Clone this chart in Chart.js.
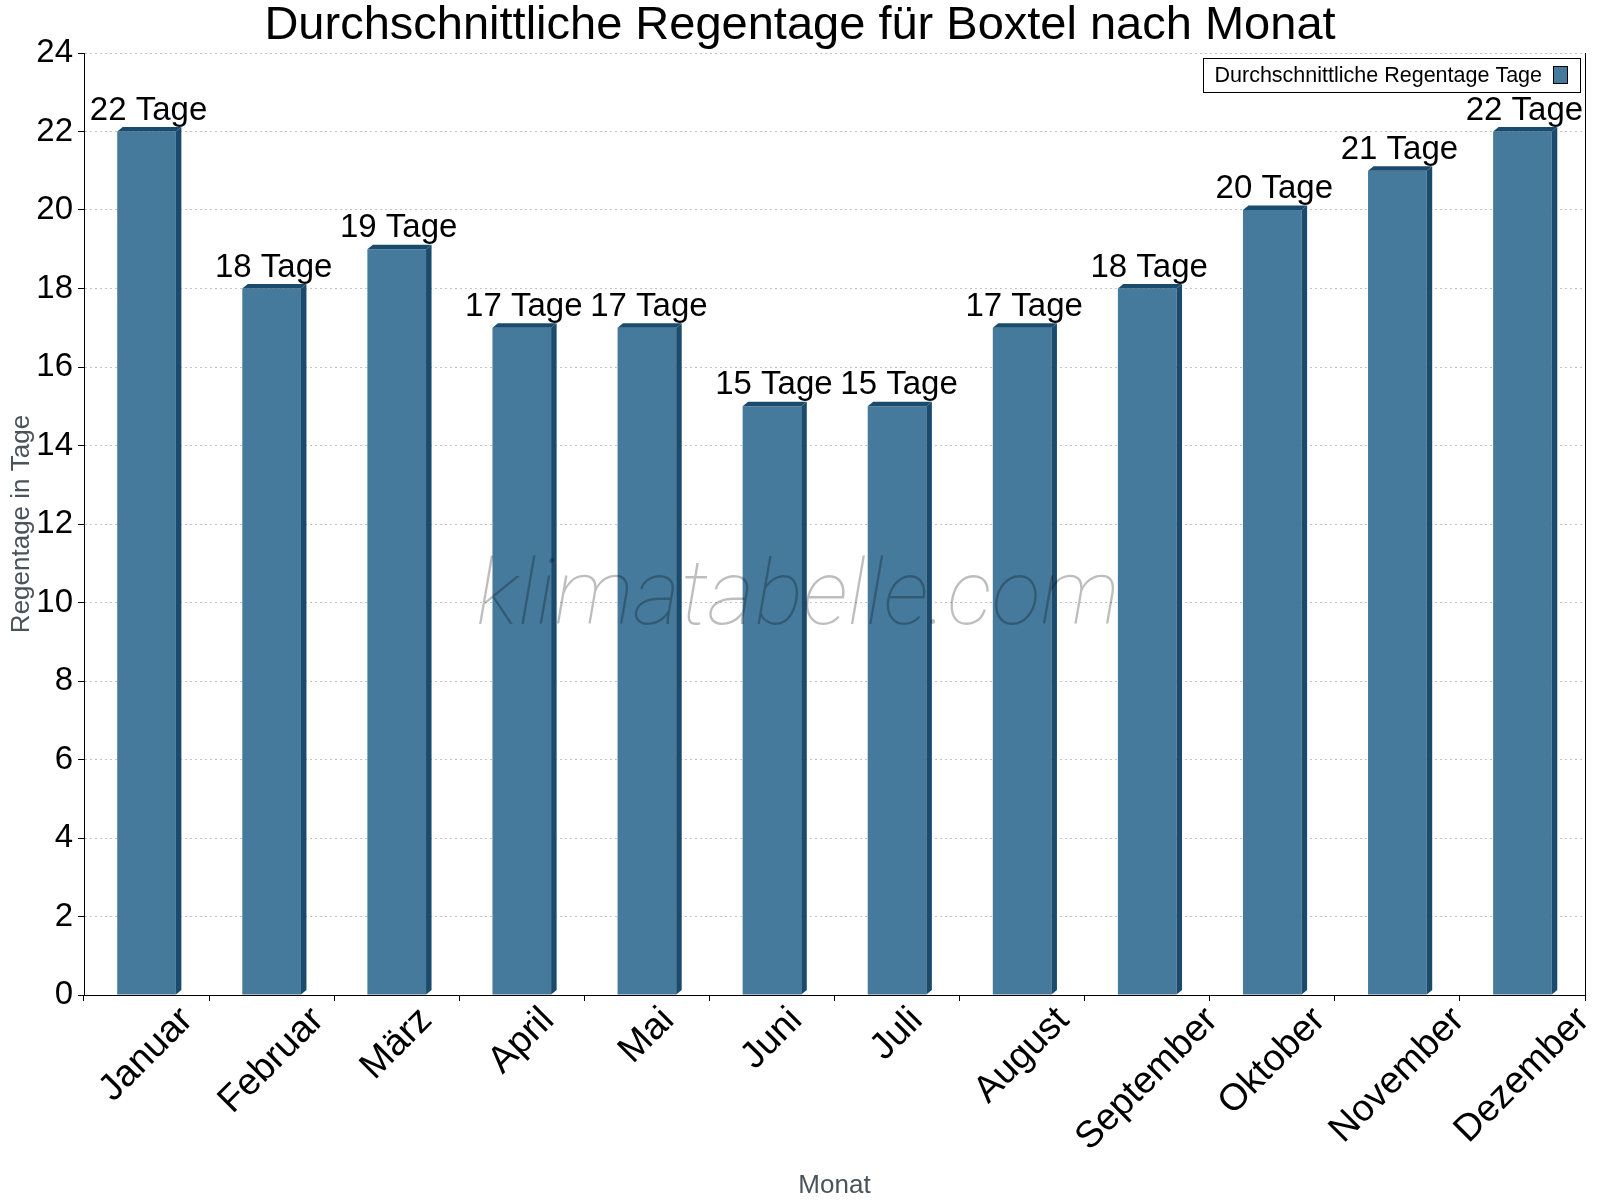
<!DOCTYPE html>
<html>
<head>
<meta charset="utf-8">
<script src="https://cdn.jsdelivr.net/npm/chart.js@4.4.0/dist/chart.umd.min.js"></script>
<style>
  html, body { margin: 0; padding: 0; background: #fff; }
  #wrap { width: 1600px; height: 1200px; }
</style>
</head>
<body>
<div id="wrap"><canvas id="rainChart" width="1600" height="1200"></canvas></div>
<script>
// data
const months = ['Januar', 'Februar', 'März', 'April', 'Mai', 'Juni', 'Juli', 'August', 'September', 'Oktober', 'November', 'Dezember'];
const rainDays = [22, 18, 19, 17, 17, 15, 15, 17, 18, 20, 21, 22];
const yTicks = [0, 2, 4, 6, 8, 10, 12, 14, 16, 18, 20, 22, 24];
const seriesLabel = 'Durchschnittliche Regentage Tage';
const titleText = 'Durchschnittliche Regentage für Boxtel nach Monat';
const unit = 'Tage';

const FONT = '"Liberation Sans", Arial, sans-serif';
const frontColor = '#467a9c';
const darkColor = '#1a4b6d';
const axisGray = '#4a525a';

// 3d look, labels, titles, legend, watermark
const decorPlugin = {
  id: 'decor',
  afterDatasetsDraw(chart) {
    const ctx = chart.ctx;
    const meta = chart.getDatasetMeta(0);
    const dx = 5.5, dy = 4.5;
    ctx.save();
    ctx.fillStyle = darkColor;
    meta.data.forEach((bar) => {
      const l = bar.x - bar.width / 2;
      const r = bar.x + bar.width / 2;
      const t = bar.y;
      const b = bar.base;
      // top face
      ctx.beginPath();
      ctx.moveTo(l, t);
      ctx.lineTo(l + dx, t - dy);
      ctx.lineTo(r + dx, t - dy);
      ctx.lineTo(r, t);
      ctx.closePath();
      ctx.fill();
      // side face
      ctx.beginPath();
      ctx.moveTo(r, t);
      ctx.lineTo(r + dx, t - dy);
      ctx.lineTo(r + dx, b - dy);
      ctx.lineTo(r, b);
      ctx.closePath();
      ctx.fill();
    });
    ctx.restore();
  },
  afterDraw(chart) {
    const ctx = chart.ctx;
    const area = chart.chartArea;
    const xs = chart.scales.x;
    const meta = chart.getDatasetMeta(0);
    ctx.save();

    // right spine
    ctx.strokeStyle = '#000';
    ctx.lineWidth = 1;
    ctx.beginPath();
    ctx.moveTo(area.right + 0.5, area.top);
    ctx.lineTo(area.right + 0.5, area.bottom);
    ctx.stroke();

    // watermark
    ctx.font = 'italic 100 91px Roboto, sans-serif';
    ctx.fillStyle = 'rgba(0,0,0,0.26)';
    ctx.textAlign = 'center';
    ctx.textBaseline = 'alphabetic';
    ctx.fillText('klimatabelle.com', 798, 624);

    // value labels
    ctx.fillStyle = '#000';
    ctx.font = '33px ' + FONT;
    ctx.textAlign = 'center';
    meta.data.forEach((bar, i) => {
      ctx.fillText(rainDays[i] + ' ' + unit, bar.x + 2, bar.y - 12);
    });

    // rotated x labels, bbox centred on tick
    ctx.font = '37.5px ' + FONT;
    ctx.textBaseline = 'middle';
    const s = Math.SQRT1_2;
    months.forEach((m, i) => {
      const x = xs.getPixelForValue(i);
      const w = ctx.measureText(m).width;
      const h = 38;
      const cy = area.bottom + 6 + (w + h) * s / 2;
      ctx.save();
      ctx.translate(x, cy);
      ctx.rotate(-Math.PI / 4);
      ctx.fillText(m, 0, 0);
      ctx.restore();
    });

    // title
    ctx.textBaseline = 'alphabetic';
    ctx.font = '47px ' + FONT;
    ctx.fillText(titleText, 800, 39);

    // axis titles
    ctx.fillStyle = axisGray;
    ctx.font = '26px ' + FONT;
    ctx.fillText('Monat', (area.left + area.right) / 2, 1193);
    ctx.save();
    ctx.translate(29, (area.top + area.bottom) / 2);
    ctx.rotate(-Math.PI / 2);
    ctx.fillText('Regentage in Tage', 0, 0);
    ctx.restore();

    // legend (box on the right of the text)
    ctx.fillStyle = '#fff';
    ctx.fillRect(1203, 58, 377, 34);
    ctx.strokeStyle = '#000';
    ctx.lineWidth = 1;
    ctx.strokeRect(1203.5, 58.5, 377, 34);
    ctx.fillStyle = '#000';
    ctx.font = '21.5px ' + FONT;
    ctx.textAlign = 'right';
    ctx.fillText(chart.data.datasets[0].label, 1542, 82);
    ctx.fillStyle = frontColor;
    ctx.fillRect(1553, 66.5, 14, 17);
    ctx.strokeStyle = '#000';
    ctx.strokeRect(1553.5, 66.5, 14, 17);

    ctx.restore();
  }
};

const chart = new Chart(document.getElementById('rainChart').getContext('2d'), {
  type: 'bar',
  data: {
    labels: months,
    datasets: [
      {
        label: seriesLabel,
        data: rainDays,
        backgroundColor: frontColor,
        borderWidth: 0,
        barPercentage: 0.469,
        categoryPercentage: 1
      }
    ]
  },
  plugins: [decorPlugin],
  options: {
    responsive: false,
    animation: false,
    layout: { padding: { top: 53, right: 15, left: 0, bottom: 0 } },
    plugins: {
      legend: { display: false },
      title: { display: false },
      tooltip: { enabled: false }
    },
    scales: {
      x: {
        grid: {
          offset: true,
          drawOnChartArea: false,
          tickLength: 6,
          tickColor: '#000'
        },
        border: { color: '#000', width: 1 },
        ticks: { display: false },
        afterFit: (s) => { s.height = 205; }
      },
      y: {
        min: 0,
        max: 24,
        afterBuildTicks: (s) => { s.ticks = yTicks.map((v) => ({ value: v })); },
        grid: {
          color: '#c4c4c4',
          tickLength: 6,
          tickColor: '#000',
          tickBorderDash: []
        },
        border: { color: '#000', width: 1, dash: [2, 3] },
        ticks: {
          color: '#000',
          padding: 5,
          font: { family: FONT, size: 33 }
        },
        afterFit: (s) => { s.width = 84; }
      }
    }
  }
});
</script>
</body>
</html>
